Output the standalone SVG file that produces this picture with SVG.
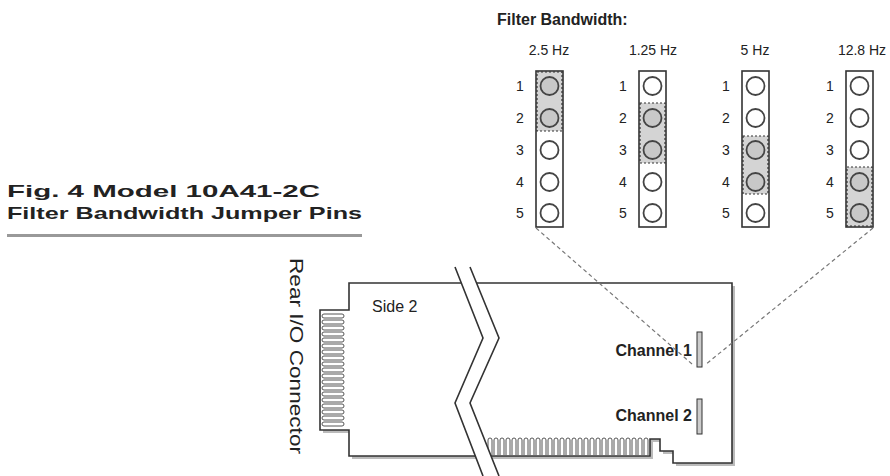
<svg xmlns="http://www.w3.org/2000/svg" width="890" height="476" viewBox="0 0 890 476">
<style>
text{font-family:"Liberation Sans",Arial,sans-serif;fill:#222}
.b{font-weight:bold}
.col{fill:#fff;stroke:#333;stroke-width:1.6}
.pin{fill:#fff;stroke:#444;stroke-width:1.8}
.on{fill:#c8c8c8}
.sh{fill:#d4d4d4;stroke:#333;stroke-width:1.2;stroke-dasharray:2 2}
.dash{fill:none;stroke:#777;stroke-width:1.2;stroke-dasharray:4 3}
.ln{fill:none;stroke:#333;stroke-width:1.6}
.n{font-size:14px}
</style>
<rect width="890" height="476" fill="#fff"/>
<g id="title">
<text x="7" y="197" class="b" font-size="17" textLength="313" lengthAdjust="spacingAndGlyphs">Fig. 4  Model 10A41-2C</text>
<text x="7" y="219" class="b" font-size="17" textLength="355" lengthAdjust="spacingAndGlyphs">Filter Bandwidth Jumper Pins</text>
<rect x="7" y="234" width="355" height="3" fill="#999"/>
</g>
<g id="header">
<text x="497" y="25" class="b" font-size="16">Filter Bandwidth:</text>
<text x="549" y="55" font-size="14" text-anchor="middle">2.5 Hz</text>
<text x="653" y="55" font-size="14" text-anchor="middle">1.25 Hz</text>
<text x="755" y="55" font-size="14" text-anchor="middle">5 Hz</text>
<text x="862" y="55" font-size="14" text-anchor="middle">12.8 Hz</text>
</g>
<g id="jumper1">
<rect class="col" x="536" y="71" width="27" height="156"/>
<rect class="sh" x="537" y="72" width="25" height="59"/>
<g class="n"><text x="516" y="91">1</text><text x="516" y="123">2</text><text x="516" y="155">3</text><text x="516" y="187">4</text><text x="516" y="218">5</text></g>
<circle class="pin on" cx="549.5" cy="86" r="9"/><circle class="pin on" cx="549.5" cy="118" r="9"/><circle class="pin" cx="549.5" cy="150" r="9"/><circle class="pin" cx="549.5" cy="182" r="9"/><circle class="pin" cx="549.5" cy="213" r="9"/>
</g>
<g id="jumper2">
<rect class="col" x="639" y="71" width="27" height="156"/>
<rect class="sh" x="640" y="103" width="25" height="60"/>
<g class="n"><text x="619" y="91">1</text><text x="619" y="123">2</text><text x="619" y="155">3</text><text x="619" y="187">4</text><text x="619" y="218">5</text></g>
<circle class="pin" cx="652.5" cy="86" r="9"/><circle class="pin on" cx="652.5" cy="118" r="9"/><circle class="pin on" cx="652.5" cy="150" r="9"/><circle class="pin" cx="652.5" cy="182" r="9"/><circle class="pin" cx="652.5" cy="213" r="9"/>
</g>
<g id="jumper3">
<rect class="col" x="742" y="71" width="27" height="156"/>
<rect class="sh" x="743" y="136" width="25" height="58"/>
<g class="n"><text x="722" y="91">1</text><text x="722" y="123">2</text><text x="722" y="155">3</text><text x="722" y="187">4</text><text x="722" y="218">5</text></g>
<circle class="pin" cx="755.5" cy="86" r="9"/><circle class="pin" cx="755.5" cy="118" r="9"/><circle class="pin on" cx="755.5" cy="150" r="9"/><circle class="pin on" cx="755.5" cy="182" r="9"/><circle class="pin" cx="755.5" cy="213" r="9"/>
</g>
<g id="jumper4">
<rect class="col" x="846" y="71" width="27" height="156"/>
<rect class="sh" x="847" y="167" width="25" height="59"/>
<g class="n"><text x="826" y="91">1</text><text x="826" y="123">2</text><text x="826" y="155">3</text><text x="826" y="187">4</text><text x="826" y="218">5</text></g>
<circle class="pin" cx="859.5" cy="86" r="9"/><circle class="pin" cx="859.5" cy="118" r="9"/><circle class="pin" cx="859.5" cy="150" r="9"/><circle class="pin on" cx="859.5" cy="182" r="9"/><circle class="pin on" cx="859.5" cy="213" r="9"/>
</g>
<g id="board">
<path d="M352,286 H735 V466 H676 V454 H663 V442 H653 V459 H352 V433 H323 V313 H352 Z" fill="#bbb"/>
<path d="M349,283 H732 V463 H673 V451 H660 V439 H650 V456 H349 V430 H320 V310 H349 Z" fill="#fff" stroke="#333" stroke-width="1.6"/>
<g fill="#fff" stroke="#555" stroke-width="1">
<rect x="322" y="314" width="22" height="4" rx="2"/><rect x="322" y="320" width="22" height="4" rx="2"/><rect x="322" y="326" width="22" height="4" rx="2"/><rect x="322" y="332" width="22" height="4" rx="2"/><rect x="322" y="338" width="22" height="4" rx="2"/><rect x="322" y="344" width="22" height="4" rx="2"/><rect x="322" y="350" width="22" height="4" rx="2"/><rect x="322" y="356" width="22" height="4" rx="2"/><rect x="322" y="362" width="22" height="4" rx="2"/><rect x="322" y="368" width="22" height="4" rx="2"/><rect x="322" y="374" width="22" height="4" rx="2"/><rect x="322" y="380" width="22" height="4" rx="2"/><rect x="322" y="386" width="22" height="4" rx="2"/><rect x="322" y="392" width="22" height="4" rx="2"/><rect x="322" y="398" width="22" height="4" rx="2"/><rect x="322" y="404" width="22" height="4" rx="2"/><rect x="322" y="410" width="22" height="4" rx="2"/><rect x="322" y="416" width="22" height="4" rx="2"/><rect x="322" y="422" width="22" height="4" rx="2"/>
</g>
<g fill="#fff" stroke="#555" stroke-width="1">
<path d="M488,455 V440 a2,2 0 0 1 4,0 V455 M494,455 V440 a2,2 0 0 1 4,0 V455 M500,455 V440 a2,2 0 0 1 4,0 V455 M506,455 V440 a2,2 0 0 1 4,0 V455 M512,455 V440 a2,2 0 0 1 4,0 V455 M518,455 V440 a2,2 0 0 1 4,0 V455 M524,455 V440 a2,2 0 0 1 4,0 V455 M530,455 V440 a2,2 0 0 1 4,0 V455 M536,455 V440 a2,2 0 0 1 4,0 V455 M542,455 V440 a2,2 0 0 1 4,0 V455 M548,455 V440 a2,2 0 0 1 4,0 V455 M554,455 V440 a2,2 0 0 1 4,0 V455 M560,455 V440 a2,2 0 0 1 4,0 V455 M566,455 V440 a2,2 0 0 1 4,0 V455 M572,455 V440 a2,2 0 0 1 4,0 V455 M578,455 V440 a2,2 0 0 1 4,0 V455 M584,455 V440 a2,2 0 0 1 4,0 V455 M590,455 V440 a2,2 0 0 1 4,0 V455 M596,455 V440 a2,2 0 0 1 4,0 V455 M602,455 V440 a2,2 0 0 1 4,0 V455 M608,455 V440 a2,2 0 0 1 4,0 V455 M614,455 V440 a2,2 0 0 1 4,0 V455 M620,455 V440 a2,2 0 0 1 4,0 V455 M626,455 V440 a2,2 0 0 1 4,0 V455 M632,455 V440 a2,2 0 0 1 4,0 V455 M638,455 V440 a2,2 0 0 1 4,0 V455 M644,455 V440 a2,2 0 0 1 4,0 V455"/>
</g>
<polygon points="455,267 483,338 455,403 483,476 499,476 470,403 499,338 470,267" fill="#fff"/>
<polyline class="ln" points="455,267 483,338 455,403 483,476"/>
<polyline class="ln" points="470,267 499,338 470,403 499,476"/>
<rect x="697" y="332" width="5" height="35" fill="#ccc" stroke="#333" stroke-width="1"/>
<rect x="697" y="399" width="5" height="35" fill="#ccc" stroke="#333" stroke-width="1"/>
<text x="372" y="312" font-size="16">Side 2</text>
<text x="692" y="356" class="b" font-size="16" text-anchor="end">Channel 1</text>
<text x="692" y="421" class="b" font-size="16" text-anchor="end">Channel 2</text>
<text transform="translate(290,258) rotate(90)" font-size="18" textLength="196" lengthAdjust="spacingAndGlyphs">Rear I/O Connector</text>
</g>
<g id="connectors">
<line class="dash" x1="536" y1="228" x2="692" y2="364"/>
<line class="dash" x1="873" y1="228" x2="705" y2="365"/>
</g>
</svg>
